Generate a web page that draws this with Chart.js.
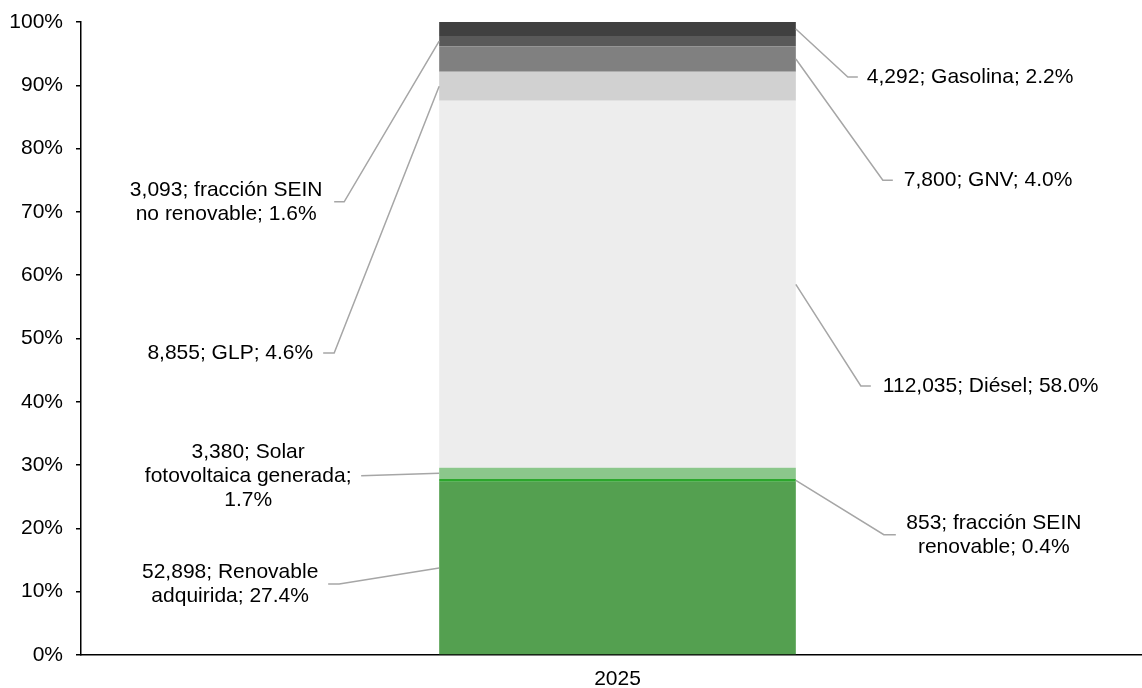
<!DOCTYPE html>
<html>
<head>
<meta charset="utf-8">
<script src="https://cdn.jsdelivr.net/npm/chart.js@4"></script>
<style>
  html, body { margin: 0; padding: 0; background: #fff; overflow: hidden; }
  #wrap { width: 1154px; height: 688px; }
</style>
</head>
<body>
<div id="wrap"><canvas id="chart" width="1154" height="688"></canvas></div>
<script>
// single 100% stacked bar, bottom segment first
const categories = ['2025'];
const seriesNames = ['Renovable adquirida', 'fracción SEIN renovable', 'Solar fotovoltaica generada', 'Diésel', 'GLP', 'GNV', 'fracción SEIN no renovable', 'Gasolina'];
const seriesValues = [52898, 853, 3380, 112035, 8855, 7800, 3093, 4292];
const seriesShares = [27.4, 0.4, 1.7, 58.0, 4.6, 4.0, 1.6, 2.2];
const seriesColors = ['#54a050', '#2ca62c', '#8bc78b', '#ededed', '#d1d1d1', '#808080', '#595959', '#404040'];
const yTicks = [0, 10, 20, 30, 40, 50, 60, 70, 80, 90, 100];

const FONT = '"Liberation Sans", Arial, sans-serif';
const total = seriesValues.reduce((a, b) => a + b, 0);

// callout placement: side of the bar, label height (in % of the axis), offsets from the bar edge
const callouts = [
  { side: 'left',  at: 11.2, bend: 100, end: 111, text: 209, wrap: 220 },
  { side: 'right', at: 19.0, bend: 88,  end: 100, text: 198, wrap: 220 },
  { side: 'left',  at: 28.3, bend: 78,  end: 78,  text: 191, wrap: 220 },
  { side: 'right', at: 42.5, bend: 65,  end: 75,  text: 87 },
  { side: 'left',  at: 47.7, bend: 105, end: 116, text: 126 },
  { side: 'right', at: 75.0, bend: 87,  end: 97,  text: 108 },
  { side: 'left',  at: 71.6, bend: 95,  end: 105, text: 213, wrap: 220 },
  { side: 'right', at: 91.3, bend: 52,  end: 62,  text: 71 }
];

function wrapText(ctx, str, maxW) {
  const words = str.split(' ');
  const lines = [];
  let cur = '';
  words.forEach(w => {
    const t = cur ? cur + ' ' + w : w;
    if (cur && ctx.measureText(t).width > maxW) {
      lines.push(cur);
      cur = w;
    } else {
      cur = t;
    }
  });
  if (cur) lines.push(cur);
  return lines;
}

const calloutPlugin = {
  id: 'callouts',
  afterDatasetsDraw(chart) {
    const ctx = chart.ctx;
    const yScale = chart.scales.y;
    ctx.save();
    ctx.font = '21px ' + FONT;
    ctx.textBaseline = 'middle';
    chart.data.datasets.forEach((ds, i) => {
      const bar = chart.getDatasetMeta(i).data[0];
      const c = callouts[i];
      const dir = c.side === 'left' ? -1 : 1;
      const edge = bar.x + dir * bar.width / 2;
      const mid = (bar.y + bar.base) / 2;
      const ly = yScale.getPixelForValue(c.at);

      ctx.strokeStyle = '#a6a6a6';
      ctx.lineWidth = 1.5;
      ctx.beginPath();
      ctx.moveTo(edge, mid);
      ctx.lineTo(edge + dir * c.bend, ly);
      ctx.lineTo(edge + dir * c.end, ly);
      ctx.stroke();

      const str = seriesValues[i].toLocaleString('en-US') + '; ' + seriesNames[i] + '; ' + seriesShares[i].toFixed(1) + '%';
      const lines = c.wrap ? wrapText(ctx, str, c.wrap) : [str];
      ctx.fillStyle = '#000';
      if (c.wrap) ctx.textAlign = 'center';
      else ctx.textAlign = c.side === 'left' ? 'right' : 'left';
      const lh = 24;
      lines.forEach((ln, k) => {
        ctx.fillText(ln, edge + dir * c.text, ly + (k - (lines.length - 1) / 2) * lh);
      });
    });
    ctx.restore();
  }
};

new Chart(document.getElementById('chart'), {
  type: 'bar',
  data: {
    labels: categories,
    datasets: seriesNames.map((name, i) => ({
      label: name,
      data: [seriesValues[i] / total * 100],
      backgroundColor: seriesColors[i],
      borderWidth: 0,
      barPercentage: 0.3324,
      categoryPercentage: 1
    }))
  },
  options: {
    responsive: false,
    animation: false,
    layout: { padding: { top: 22, left: 1, right: 0, bottom: 0 } },
    plugins: {
      legend: { display: false },
      tooltip: { enabled: false }
    },
    scales: {
      x: {
        stacked: true,
        grid: { drawOnChartArea: false, drawTicks: false },
        border: { color: '#000', width: 1.5 },
        ticks: { color: '#000', font: { family: FONT, size: 21 }, padding: 12 },
        afterFit: s => { s.height = 33; }
      },
      y: {
        stacked: true,
        min: 0,
        max: 100,
        afterBuildTicks: s => { s.ticks = yTicks.map(v => ({ value: v })); },
        ticks: { color: '#000', font: { family: FONT, size: 21 }, padding: 13, callback: v => v + '%' },
        grid: { drawOnChartArea: false, tickLength: 5, color: '#000', lineWidth: 1.5 },
        border: { color: '#000', width: 1.5 },
        afterFit: s => { s.width = 80; s.paddingTop = 0; s.paddingBottom = 0; }
      }
    }
  },
  plugins: [calloutPlugin]
});
</script>
</body>
</html>
